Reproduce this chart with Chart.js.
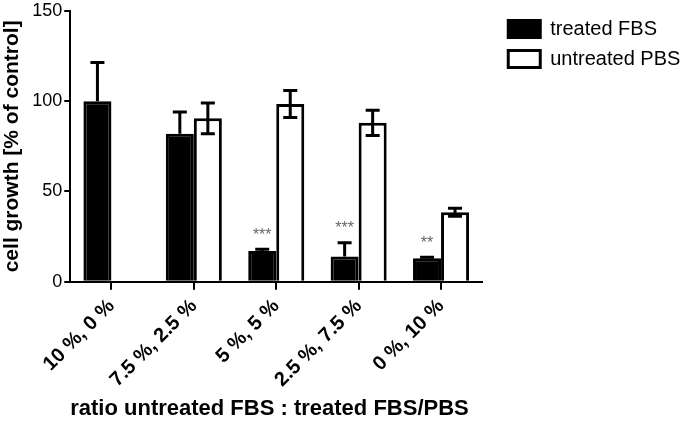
<!DOCTYPE html>
<html>
<head>
<meta charset="utf-8">
<script src="https://cdn.jsdelivr.net/npm/chart.js@4.4.0/dist/chart.umd.min.js"></script>
<style>
  html, body { margin: 0; padding: 0; background: #fff; }
  #wrap { width: 700px; height: 421px; }
</style>
</head>
<body>
<div id="wrap"><canvas id="chart"></canvas></div>
<script>
// données
const categories = ['10 %, 0 %', '7.5 %, 2.5 %', '5 %, 5 %', '2.5 %, 7.5 %', '0 %, 10 %'];
const treatedFBS = [100, 82, 17, 14, 13];
const treatedErr = [21.5, 12, 1, 7.5, 0.5];
const untreatedPBS = [null, 90.5, 98.5, 88, 38.5];
const untreatedErr = [null, 8.5, 7.5, 7, 2.2];
const stars = ['', '', '***', '***', '**'];
const yTicks = [0, 50, 100, 150];

const FONT = "'Liberation Sans', Arial, sans-serif";

// barres d'erreur + étoiles
const errorBars = {
  id: 'errorBars',
  afterDatasetsDraw(chart) {
    const ctx = chart.ctx;
    const y = chart.scales.y;
    const sets = [
      { idx: 0, vals: treatedFBS, err: treatedErr, both: false },
      { idx: 1, vals: untreatedPBS, err: untreatedErr, both: true }
    ];
    ctx.save();
    ctx.strokeStyle = '#000';
    ctx.lineWidth = 3;
    sets.forEach(s => {
      const meta = chart.getDatasetMeta(s.idx);
      meta.data.forEach((bar, i) => {
        if (s.vals[i] == null || s.err[i] == null) return;
        const x = bar.x;
        const top = y.getPixelForValue(s.vals[i] + s.err[i]);
        const bot = s.both ? y.getPixelForValue(s.vals[i] - s.err[i]) : y.getPixelForValue(s.vals[i]);
        const cap = 7;
        ctx.beginPath();
        ctx.moveTo(x, top); ctx.lineTo(x, bot);
        ctx.moveTo(x - cap, top); ctx.lineTo(x + cap, top);
        if (s.both) { ctx.moveTo(x - cap, bot); ctx.lineTo(x + cap, bot); }
        ctx.stroke();
      });
    });
    // étoiles de significativité
    const meta0 = chart.getDatasetMeta(0);
    ctx.fillStyle = '#666';
    ctx.font = '16px ' + FONT;
    ctx.textAlign = 'center';
    ctx.textBaseline = 'middle';
    stars.forEach((s, i) => {
      if (!s) return;
      const top = y.getPixelForValue(treatedFBS[i] + treatedErr[i]);
      ctx.fillText(s, meta0.data[i].x, top - 14);
    });
    ctx.restore();
  }
};

// la légende à droite est limitée en largeur par Chart.js, on la décale et l'élargit
const legendShift = {
  id: 'legendShift',
  afterLayout(chart) {
    const lg = chart.legend;
    lg.left += 16;
    lg.right = chart.width;
    lg.width = lg.right - lg.left;
    lg.top += 9; lg.bottom += 9;
  }
};

new Chart(document.getElementById('chart'), {
  type: 'bar',
  data: {
    labels: categories,
    datasets: [
      { label: 'treated FBS', data: treatedFBS, backgroundColor: '#000', borderColor: '#000', borderWidth: 3 },
      { label: 'untreated PBS', data: untreatedPBS, backgroundColor: '#fff', borderColor: '#000', borderWidth: 3 }
    ]
  },
  options: {
    responsive: true,
    maintainAspectRatio: false,
    animation: false,
    layout: { padding: { top: 0, right: 57, bottom: 0, left: 0 } },
    datasets: { bar: { barPercentage: 1, categoryPercentage: 0.68, borderSkipped: 'bottom' } },
    plugins: {
      tooltip: { enabled: false },
      legend: {
        position: 'right',
        align: 'start',
        labels: {
          color: '#000',
          font: { family: FONT, size: 20 },
          boxWidth: 32,
          boxHeight: 17,
          padding: 10
        }
      }
    },
    scales: {
      x: {
        offset: true,
        border: { color: '#000', width: 2 },
        grid: { display: true, drawOnChartArea: false, color: '#000', lineWidth: 2, tickLength: 8, offset: false },
        ticks: {
          color: '#000',
          font: { family: FONT, size: 20, weight: 'bold' },
          maxRotation: 45, minRotation: 45,
          padding: 5
        },
        title: {
          display: true,
          text: 'ratio untreated FBS : treated FBS/PBS',
          align: 'start',
          color: '#000',
          font: { family: FONT, size: 22, weight: 'bold', lineHeight: 1.1 },
          padding: { top: 0, bottom: 0 }
        }
      },
      y: {
        min: 0, max: 150,
        afterBuildTicks: axis => { axis.ticks = yTicks.map(v => ({ value: v })); },
        border: { color: '#000', width: 2 },
        grid: { display: true, drawOnChartArea: false, color: '#000', lineWidth: 2, tickLength: 6 },
        ticks: { color: '#000', font: { family: FONT, size: 18, lineHeight: 1.0 }, padding: 2 },
        title: {
          display: true,
          text: 'cell growth [% of control]',
          color: '#000',
          font: { family: FONT, size: 21, weight: 'bold' },
          padding: { top: 0, bottom: 5 }
        }
      }
    }
  },
  plugins: [errorBars, legendShift]
});
</script>
</body>
</html>
